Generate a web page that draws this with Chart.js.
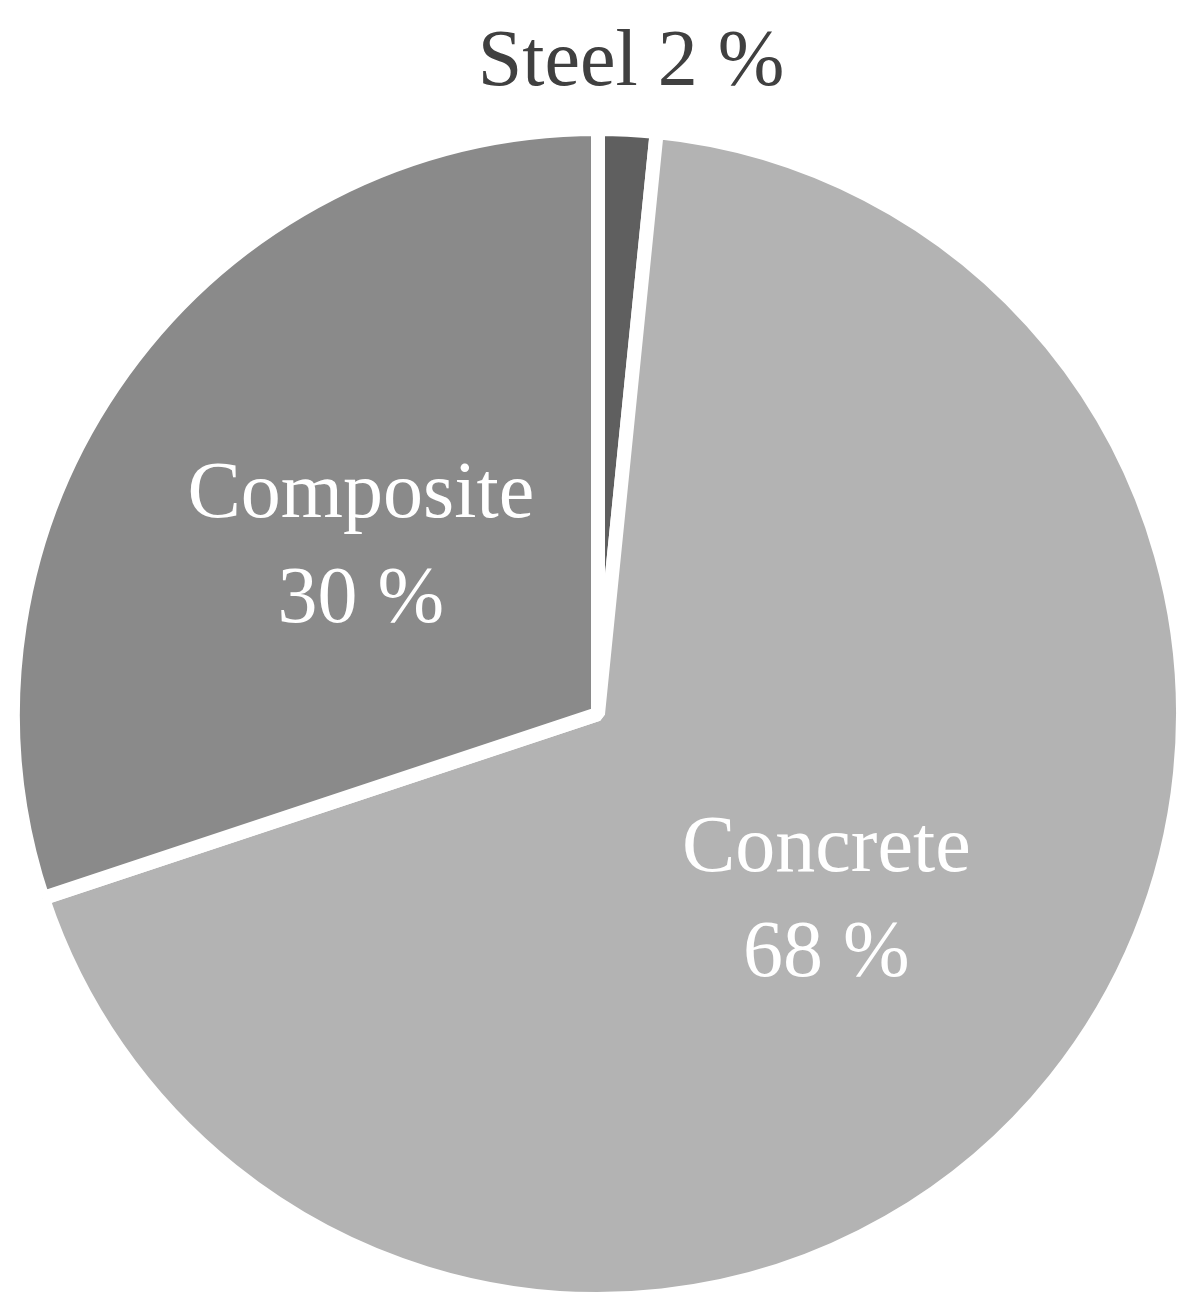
<!DOCTYPE html>
<html>
<head>
<meta charset="utf-8">
<script src="https://cdn.jsdelivr.net/npm/chart.js@4/dist/chart.umd.min.js"></script>
<style>
  html, body { margin: 0; padding: 0; background: #ffffff; }
  #chart { display: block; }
</style>
</head>
<body>
<canvas id="chart" width="1204" height="1315"></canvas>
<script>
// values (slice angles), labels as printed
const materials = ["Steel", "Concrete", "Composite"];
const shares = [1.6, 68.3, 30.1];
const shareLabels = ["2 %", "68 %", "30 %"];
const sliceColors = ["#5f5f5f", "#b3b3b3", "#8a8a8a"];

const labelFont = "80px 'Liberation Serif', serif";

// draws the slice labels from each arc's own geometry
const sliceLabels = {
  id: "sliceLabels",
  afterDatasetsDraw(chart) {
    const ctx = chart.ctx;
    const arcs = chart.getDatasetMeta(0).data;
    ctx.save();
    ctx.font = labelFont;
    ctx.textAlign = "center";
    ctx.textBaseline = "alphabetic";
    arcs.forEach((arc, i) => {
      const p = arc.getProps(["x", "y", "startAngle", "endAngle", "outerRadius"], true);
      const mid = (p.startAngle + p.endAngle) / 2;
      if (i === 0) {
        // small slice: label outside, above the pie
        const d = p.outerRadius + 72;
        const cx = p.x + Math.cos(mid) * d;
        const cy = p.y + Math.sin(mid) * d;
        ctx.fillStyle = "#404040";
        ctx.fillText(materials[i] + " " + shareLabels[i], cx, cy + 27);
      } else {
        const pos = arc.tooltipPosition(true);
        ctx.fillStyle = "#ffffff";
        ctx.fillText(materials[i], pos.x, pos.y - 26);
        ctx.fillText(shareLabels[i], pos.x, pos.y + 79);
      }
    });
    ctx.restore();
  }
};

new Chart(document.getElementById("chart").getContext("2d"), {
  type: "pie",
  data: {
    labels: materials,
    datasets: [
      {
        data: shares,
        backgroundColor: sliceColors,
        borderColor: "#ffffff",
        borderWidth: 14,
        hoverOffset: 0
      }
    ]
  },
  options: {
    responsive: false,
    animation: false,
    events: [],
    layout: { padding: { left: 6, right: 14, top: 122, bottom: 9 } },
    plugins: {
      legend: { display: false },
      tooltip: { enabled: false }
    }
  },
  plugins: [sliceLabels]
});
</script>
</body>
</html>
